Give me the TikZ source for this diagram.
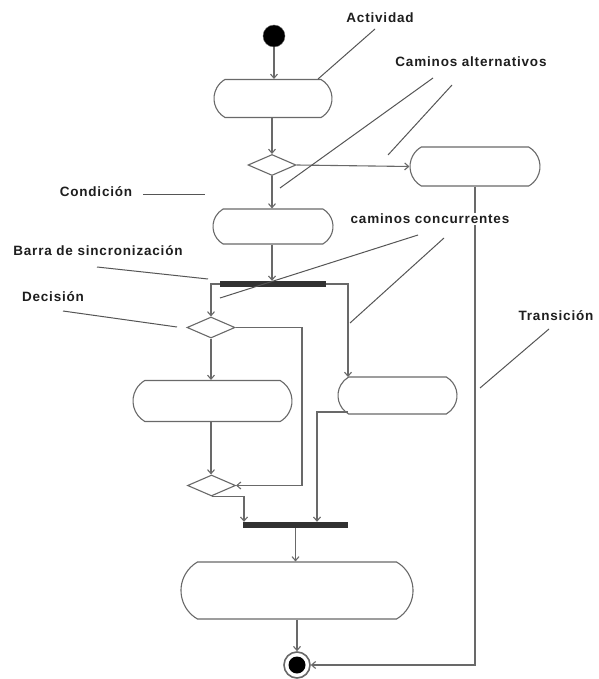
\documentclass[tikz,border=0pt]{standalone}
\usepackage{fontspec}
\setmainfont{Liberation Sans}
\newfontfamily\lblfont[LetterSpace=6]{Liberation Sans}
\usetikzlibrary{shapes.misc,shapes.geometric,arrows.meta,calc}
\definecolor{linegray}{RGB}{105,105,105}
\definecolor{bargray}{RGB}{50,50,50}
\definecolor{textgray}{RGB}{30,30,30}
\definecolor{leadgray}{RGB}{85,85,85}
\begin{document}
\begin{tikzpicture}[x=1pt,y=-1pt,
  line/.style={draw=linegray, line width=1.1pt},
  arr/.style={line, -{Straight Barb[length=4pt,width=7pt]}},
  act/.style={rounded rectangle, rounded rectangle arc length=120, draw=linegray, line width=1.1pt, inner sep=0pt},
  dec/.style={diamond, draw=linegray, line width=1.1pt, inner sep=0pt, minimum width=48pt, minimum height=21pt},
  syncbar/.style={rectangle, fill=bargray, inner sep=0pt, minimum height=6pt},
  lbl/.style={font=\lblfont\bfseries\fontsize{13.5}{15}\selectfont, text=textgray, fill=white, inner sep=1pt},
  lead/.style={draw=leadgray, line width=1pt}]
\useasboundingbox[fill=white] (0,0) rectangle (598,679);

% nodes
\node[circle, fill=black, draw=linegray, minimum size=22pt, inner sep=0pt] (start) at (274,36) {};
\node[act, minimum width=118pt, minimum height=38pt] (a1) at (273,98.5) {};
\node[dec] (d1) at (272,165) {};
\node[act, minimum width=130pt, minimum height=39pt] (a2) at (475,166.5) {};
\node[act, minimum width=120pt, minimum height=35pt] (a3) at (273,226.5) {};
\node[syncbar, minimum width=106pt] (b1) at (273,284) {};
\node[dec] (d2) at (211,327.5) {};
\node[act, minimum width=159pt, minimum height=41pt] (a5) at (212.5,401) {};
\node[act, minimum width=119pt, minimum height=37pt] (a4) at (397.5,395.5) {};
\node[dec] (d3) at (211.5,485.5) {};
\node[syncbar, minimum width=105pt] (b2) at (295.5,525) {};
\node[act, minimum width=232pt, minimum height=57pt] (a6) at (297,590.5) {};
\node[circle, draw=linegray, line width=1.6pt, minimum size=26pt, inner sep=0pt] (fin) at (297,665) {};
\node[circle, fill=black, minimum size=17pt, inner sep=0pt] (finin) at (fin) {};

% helper coordinates
\coordinate (b4in) at (348,377);
\coordinate (b4out) at (348,412);
\coordinate (j1) at (302,0);
\coordinate (j2) at (317,0);
\coordinate (j3) at (244,0);

% connectors
\draw[arr] (start) -- (a1.north -| start);
\draw[arr] (a1.south -| d1) -- (d1.north);
\draw[arr] (d1.east) -- (a2.west);
\draw[arr] (d1.south) -- (a3.north -| d1);
\draw[arr] (a3.south -| d1) -- (b1.north -| d1);
\draw[arr] (b1.west) -| (d2.north);
\draw[arr] (b1.east) -| (b4in);
\draw[arr] (d2.south) -- (a5.north -| d2);
\draw[arr] (a5.south -| d2) -- (d3.north -| d2);
\draw[arr] (d2.east) -| (j1 |- d3.east) -- (d3.east);
\draw[arr] (d3.south) -| (j3 |- b2.north);
\draw[arr] (b4out) -| (j2 |- b2.north);
\draw[arr] (b2.south) -- (b2.south |- a6.north);
\draw[arr] (a6.south) -- (fin.north);
\draw[arr] (a2.south) |- (fin.east);

% labels
\node[lbl] (lact) at (380,18) {Actividad};
\node[lbl] (lalt) at (471,62) {Caminos alternativos};
\node[lbl] (lcond) at (96,192) {Condición};
\node[lbl] (lbar) at (98,251) {Barra de sincronización};
\node[lbl] (ldec) at (53,297) {Decisión};
\node[lbl] (lconc) at (430,219) {caminos concurrentes};
\node[lbl] (ltra) at (556,316) {Transición};

% leader lines
\coordinate (t1) at (318,79);
\coordinate (t2) at (280,188);
\coordinate (t3) at (388,155);
\coordinate (t4) at (205,194);
\coordinate (t5) at (208,279);
\coordinate (t6) at (177,327);
\coordinate (t7) at (220,298);
\coordinate (t8) at (350,323);
\coordinate (t9) at (480,388);
\draw[lead] (375,29) -- (t1);
\draw[lead] (433,78) -- (t2);
\draw[lead] (452,85) -- (t3);
\draw[lead] (143,194) -- (t4);
\draw[lead] (97,267) -- (t5);
\draw[lead] (63,311) -- (t6);
\draw[lead] (418,235) -- (t7);
\draw[lead] (444,238) -- (t8);
\draw[lead] (549,329) -- (t9);
\end{tikzpicture}
\end{document}
